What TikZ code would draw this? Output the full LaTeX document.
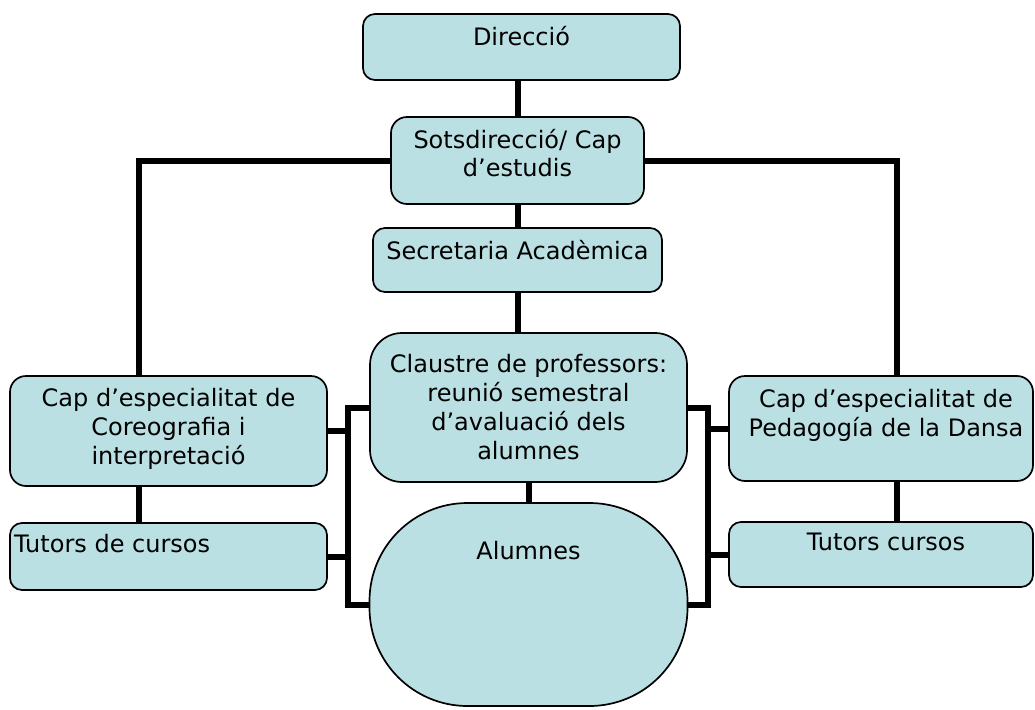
\documentclass[tikz,border=0pt]{standalone}
\usepackage{fontspec}
\setmainfont{DejaVu Sans}
\usetikzlibrary{backgrounds,calc}
\definecolor{boxfill}{RGB}{187,224,227}
\begin{document}
\begin{tikzpicture}[x=1pt,y=-1pt,
  box/.style={draw=black, line width=1.7pt, fill=boxfill, rounded corners=#1, inner sep=0pt},
  box/.default=12pt,
  txt/.style={font=\fontsize{24}{28.8}\selectfont, align=center, inner sep=0pt},
  conn/.style={line width=6pt}]
\useasboundingbox (0,0) rectangle (1035,709);

% boxes
\node[box=12pt, minimum width=317pt, minimum height=66pt] (dir) at (521.5,47) {};
\node[box=16pt, minimum width=253pt, minimum height=87pt] (sots) at (517.5,160.5) {};
\node[box=12pt, minimum width=289pt, minimum height=64pt] (sec) at (517.5,260) {};
\node[box=32pt, minimum width=317pt, minimum height=149pt] (claus) at (528.5,407.5) {};
\node[box=98pt, minimum width=318pt, minimum height=203pt] (alum) at (528.5,604.5) {};
\node[box=16pt, minimum width=317pt, minimum height=110pt] (capL) at (168.5,431) {};
\node[box=12pt, minimum width=317pt, minimum height=67pt] (tutL) at (168.5,556.5) {};
\node[box=16pt, minimum width=304pt, minimum height=105pt] (capR) at (881,428.5) {};
\node[box=12pt, minimum width=304pt, minimum height=65pt] (tutR) at (881,554.5) {};

% texts
\node[txt] (tdir) at (521.5,36) {Direcció};
\node[txt] (tsots) at (517.5,153) {Sotsdirecció/ Cap\\d’estudis};
\node[txt] (tsec) at (517.5,250) {Secretaria Acadèmica};
\node[txt] (tclaus) at (528.5,407) {Claustre de professors:\\reunió semestral\\d’avaluació dels\\alumnes};
\node[txt] (talum) at (528.5,551) {Alumnes};
\node[txt] (tcapL) at (168.5,429) {Cap d’especialitat de\\Coreografia i\\interpretació};
\node[txt, anchor=west] (ttutL) at (14,544) {Tutors de cursos};
\node[txt] (tcapR) at (886,415) {Cap d’especialitat de\\Pedagogía de la Dansa};
\node[txt] (ttutR) at (886,542) {Tutors cursos};

\coordinate (bl) at (348,0);
\coordinate (br) at (708,0);

\begin{pgfonlayer}{background}
\fill[white] (0,0) rectangle (1035,709);
\draw[conn] (sots.north) -- (sots.north |- dir.south);
\draw[conn] (sots.south) -- (sec.north);
\draw[conn] (sec.south) -- (sec.south |- claus.north);
\draw[conn] (claus.south) -- (alum.north);
\draw[conn] (sots.west) -| ([xshift=-30pt]capL.north);
\draw[conn] ([xshift=-30pt]capL.south) -- ([xshift=-30pt]tutL.north);
\draw[conn] (sots.east) -| ([xshift=16pt]capR.north);
\draw[conn] ([xshift=16pt]capR.south) -- ([xshift=16pt]tutR.north);
% left bracket
\draw[conn] (claus.west) -- (claus.west -| bl) -- (alum.west -| bl) -- (alum.west);
\draw[conn] (capL.east) -- (capL.east -| bl);
\draw[conn] (tutL.east) -- (tutL.east -| bl);
% right bracket
\draw[conn] (claus.east) -- (claus.east -| br) -- (alum.east -| br) -- (alum.east);
\draw[conn] (capR.west) -- (capR.west -| br);
\draw[conn] (tutR.west) -- (tutR.west -| br);
\end{pgfonlayer}
\end{tikzpicture}
\end{document}
